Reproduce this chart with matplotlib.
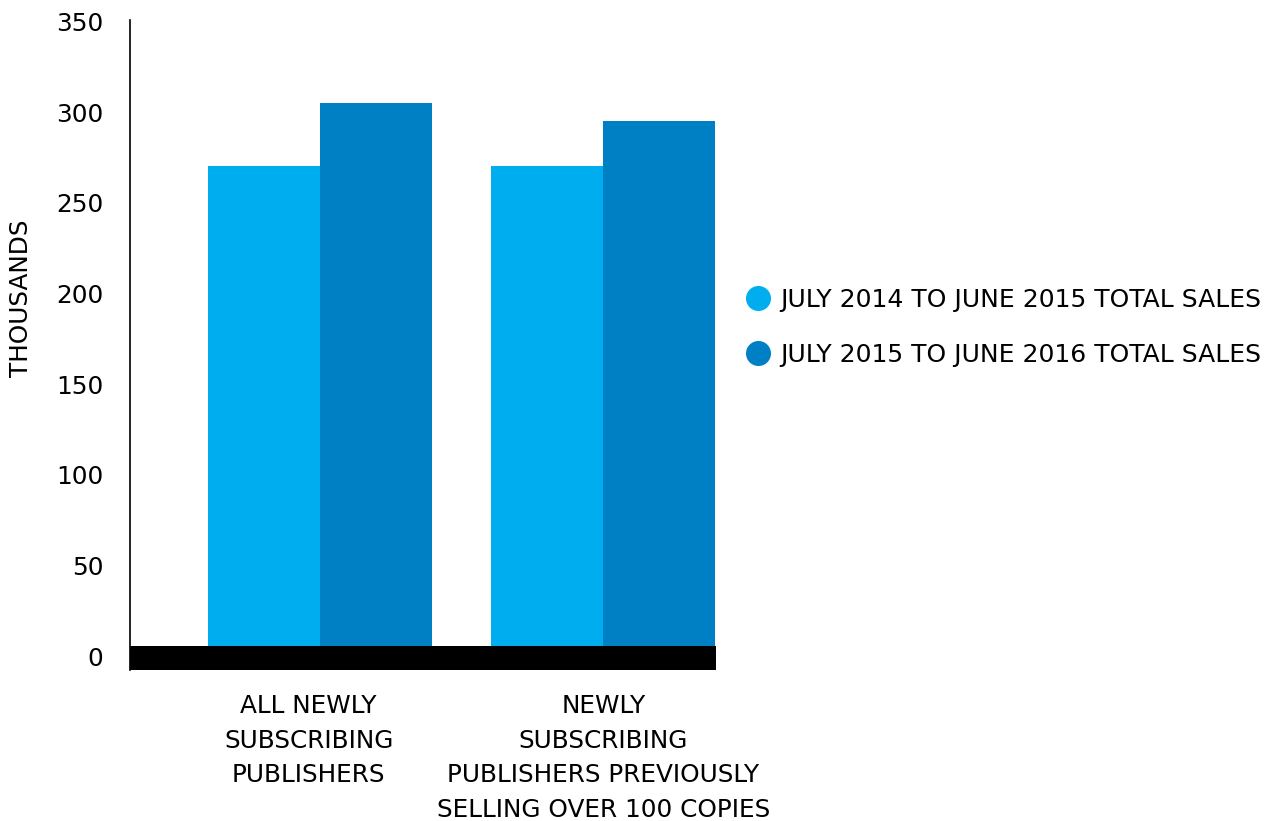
import numpy as np
import matplotlib.pyplot as plt
from matplotlib.lines import Line2D

plt.rcParams['font.family'] = ['DejaVu Sans']

# datos (miles)
categorias = ['ALL NEWLY\nSUBSCRIBING\nPUBLISHERS',
              'NEWLY\nSUBSCRIBING\nPUBLISHERS PREVIOUSLY\nSELLING OVER 100 COPIES']
ventas_2014_2015 = [270, 270]
ventas_2015_2016 = [305, 295]
series = ['JULY 2014 TO JUNE 2015 TOTAL SALES', 'JULY 2015 TO JUNE 2016 TOTAL SALES']
y_ticks = [0, 50, 100, 150, 200, 250, 300, 350]

color_claro = '#00aeef'
color_oscuro = '#0080c4'

fig = plt.figure(figsize=(12.82, 8.21), dpi=100)
ax = fig.add_axes([130/1282, 1 - 670/821, 586/1282, 650/821])

x = np.arange(len(categorias))
ancho = 0.395
ax.bar(x - ancho/2, ventas_2014_2015, ancho, color=color_claro, zorder=1)
ax.bar(x + ancho/2, ventas_2015_2016, ancho, color=color_oscuro, zorder=1)

# franja negra en la base
ax.axhspan(-7.7, 5.5, color='black', zorder=3, lw=0)

ax.set_xlim(-0.67, 1.397)
ax.set_ylim(-7.7, 350.8)
ax.set_yticks(y_ticks)
ax.set_yticklabels([str(v) for v in y_ticks], fontsize=17.8)
ax.set_xticks([x[0] - 0.04, x[1]])
ax.set_xticklabels(categorias, fontsize=17.8, linespacing=1.55)
ax.tick_params(axis='both', length=0)
ax.tick_params(axis='y', pad=19)
ax.tick_params(axis='x', pad=17.5)

for s in ['top', 'right', 'bottom']:
    ax.spines[s].set_visible(False)
ax.spines['left'].set_linewidth(1.2)

ax.set_ylabel('THOUSANDS', fontsize=17.8)
ax.yaxis.set_label_coords(-0.166, 0.572)

handles = [Line2D([], [], marker='o', ls='', markersize=17, color=c)
           for c in [color_claro, color_oscuro]]
fig.legend(handles, series, loc='center left', bbox_to_anchor=(744/1282, 1 - 327/821),
           frameon=False, fontsize=18, handletextpad=0.35, labelspacing=1.24,
           handlelength=1.1, borderpad=0, borderaxespad=0)

fig.savefig('out.png', dpi=100)
